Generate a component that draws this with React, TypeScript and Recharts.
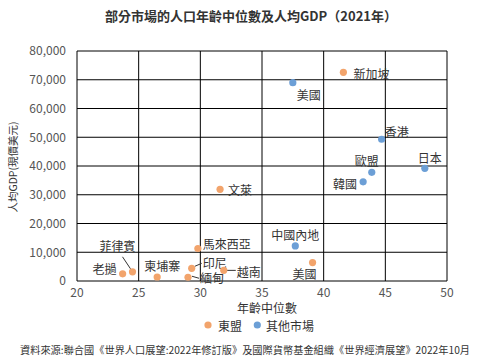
import React from "react";
import { ScatterChart, Scatter, XAxis, YAxis, CartesianGrid } from "recharts";

const FONT = '"Noto Sans CJK TC", "Noto Sans", sans-serif';

const xTicks = [20, 25, 30, 35, 40, 45, 50];
const yTicks = [0, 10000, 20000, 30000, 40000, 50000, 60000, 70000, 80000];

const aseanNames = ["老撾", "菲律賓", "柬埔寨", "緬甸", "印尼", "馬來西亞", "越南", "文萊", "美國", "新加坡"];
const aseanAge = [23.7, 24.5, 26.5, 29.0, 29.3, 29.8, 31.9, 31.6, 39.1, 41.6];
const aseanGdp = [2500, 3200, 1400, 1300, 4400, 11300, 3700, 31900, 6400, 72600];

const otherNames = ["美國", "中國內地", "香港", "歐盟", "韓國", "日本"];
const otherAge = [37.5, 37.7, 44.7, 43.9, 43.2, 48.2];
const otherGdp = [69000, 12200, 49300, 37800, 34500, 39200];

const ORANGE = "#F2A46C";
const BLUE = "#6C9FD6";

type Layout = { dx: number; dy: number; anchor: "start" | "middle" | "end"; line?: [number, number, number, number] };

const aseanLayout: Layout[] = [
  { dx: -6, dy: -5, anchor: "end" },
  { dx: -15, dy: -26, anchor: "middle", line: [-2, -3, -10, -15] },
  { dx: 5, dy: -11, anchor: "middle" },
  { dx: 12, dy: 0, anchor: "start", line: [4, -1, 11, 1] },
  { dx: 11, dy: -6, anchor: "start", line: [3, -2, 10, -5] },
  { dx: 5, dy: -5, anchor: "start" },
  { dx: 13, dy: 1, anchor: "start", line: [3, 0, 12, 0] },
  { dx: 8, dy: 0, anchor: "start" },
  { dx: -8, dy: 11, anchor: "middle" },
  { dx: 10, dy: 1, anchor: "start" },
];

const otherLayout: Layout[] = [
  { dx: 16, dy: 12, anchor: "middle" },
  { dx: 0, dy: -11, anchor: "middle" },
  { dx: 15, dy: -8, anchor: "middle" },
  { dx: -5, dy: -12, anchor: "middle" },
  { dx: -6, dy: 2, anchor: "end" },
  { dx: 5, dy: -11, anchor: "middle" },
];

const aseanData = aseanNames.map((n, i) => ({ name: n, age: aseanAge[i], gdp: aseanGdp[i], idx: i }));
const otherData = otherNames.map((n, i) => ({ name: n, age: otherAge[i], gdp: otherGdp[i], idx: i }));

const makeShape = (color: string, layout: Layout[]) => (props: any) => {
  const { cx, cy, payload } = props;
  if (cx == null || cy == null) return <g />;
  const l = layout[payload.idx];
  return (
    <g>
      {l.line && (
        <line
          x1={cx + l.line[0]}
          y1={cy + l.line[1]}
          x2={cx + l.line[2]}
          y2={cy + l.line[3]}
          stroke="#333"
          strokeWidth={1}
        />
      )}
      <circle cx={cx} cy={cy} r={3.6} fill={color} />
      <text
        x={cx + l.dx}
        y={cy + l.dy}
        textAnchor={l.anchor}
        dominantBaseline="central"
        fontSize={12}
        fontFamily={FONT}
        fill="#333"
      >
        {payload.name}
      </text>
    </g>
  );
};

export default function App() {
  return (
    <div style={{ position: "absolute", left: 0, top: 0, width: 477, height: 357, background: "#fff" }}>
      <ScatterChart width={477} height={357} margin={{ top: 51, right: 30, bottom: 56, left: 0 }}>
        <CartesianGrid stroke="#000" strokeWidth={1} />
        <XAxis
          type="number"
          dataKey="age"
          domain={[20, 50]}
          ticks={xTicks}
          height={20}
          axisLine={false}
          tickLine={false}
          tickMargin={1}
          tick={{ fontSize: 12, fontFamily: FONT, fill: "#555" }}
        />
        <YAxis
          type="number"
          dataKey="gdp"
          domain={[0, 80000]}
          ticks={yTicks}
          width={77}
          axisLine={false}
          tickLine={false}
          tickMargin={5}
          tickFormatter={(v: number) => v.toLocaleString("en-US")}
          tick={{ fontSize: 12, fontFamily: FONT, fill: "#555" }}
        />
        <Scatter data={aseanData} fill={ORANGE} isAnimationActive={false} shape={makeShape(ORANGE, aseanLayout)} />
        <Scatter data={otherData} fill={BLUE} isAnimationActive={false} shape={makeShape(BLUE, otherLayout)} />
      </ScatterChart>
      <svg
        width={477}
        height={357}
        style={{ position: "absolute", left: 0, top: 0, pointerEvents: "none" }}
        fontFamily={FONT}
      >
        <text x={251} y={15} textAnchor="middle" dominantBaseline="central" fontSize={13} fontWeight="bold" fill="#333">
          部分市場的人口年齡中位數及人均GDP（2021年）
        </text>
        <text
          x={12.5}
          y={167}
          textAnchor="middle"
          dominantBaseline="central"
          fontSize={10.5}
          fill="#333"
          transform="rotate(-90 12.5 167)"
        >
          人均GDP(現價美元)
        </text>
        <text x={267} y={307.5} textAnchor="middle" dominantBaseline="central" fontSize={12} fill="#333">
          年齡中位數
        </text>
        <circle cx={208} cy={325} r={3.6} fill={ORANGE} />
        <text x={218} y={325} dominantBaseline="central" fontSize={12} fill="#333">
          東盟
        </text>
        <circle cx={257.3} cy={325} r={3.6} fill={BLUE} />
        <text x={266} y={325} dominantBaseline="central" fontSize={12} fill="#333">
          其他市場
        </text>
        <text x={20} y={349.5} dominantBaseline="central" fontSize={10} fill="#333" textLength={450} lengthAdjust="spacingAndGlyphs">
          資料來源:聯合國《世界人口展望:2022年修訂版》及國際貨幣基金組織《世界經濟展望》2022年10月
        </text>
      </svg>
    </div>
  );
}
